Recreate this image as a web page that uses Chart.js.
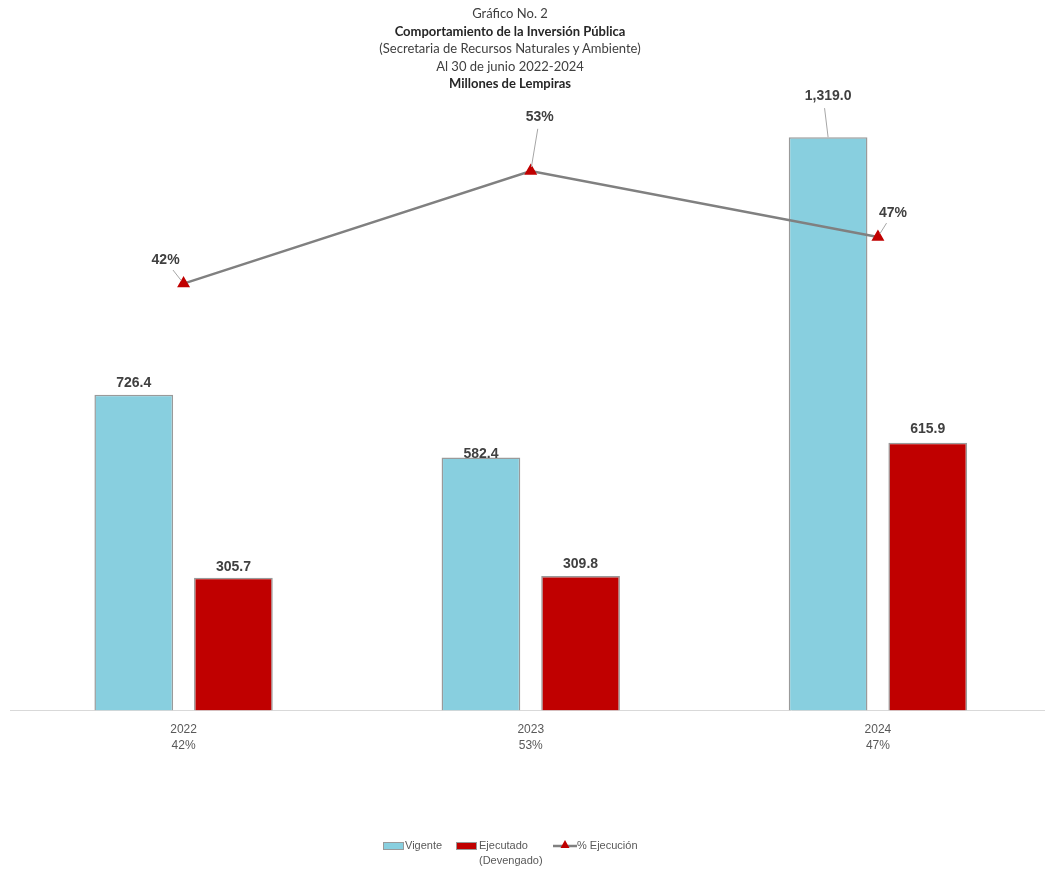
<!DOCTYPE html>
<html>
<head>
<meta charset="utf-8">
<script src="https://cdn.jsdelivr.net/npm/chart.js@4"></script>
<style>
  html, body { margin: 0; background: #fff; overflow: hidden; }
  #wrap { position: relative; width: 1045px; height: 870px; overflow: hidden; }
  #grafico { position: absolute; left: 0; top: 0; }
  #titulo { position: absolute; top: 5px; left: 0; width: 1020px; text-align: center;
    font-family: Lato, "Open Sans", sans-serif; font-size: 13px; line-height: 17.5px; color: #404040; }
  #titulo b { color: #262626; }
  .ley { position: absolute; font-family: "Liberation Sans", Arial, sans-serif; font-size: 11px; color: #595959; line-height: 15px; }
  .caja { position: absolute; width: 21px; height: 8px; box-sizing: border-box; }
</style>
</head>
<body>
<div id="wrap">
  <canvas id="grafico" width="1059" height="870"></canvas>
  <div id="titulo">
    Gráfico No. 2<br>
    <b>Comportamiento de la Inversión Pública</b><br>
    (Secretaria de Recursos Naturales y Ambiente)<br>
    Al 30 de junio 2022-2024<br>
    <b>Millones de Lempiras</b>
  </div>
  <div class="caja" style="left:383px;top:842px;background:#88CFDF;border:1px solid #9a9a9a;"></div>
  <div class="ley" style="left:405px;top:838px;">Vigente</div>
  <div class="caja" style="left:456px;top:842px;background:#C00000;border:1px solid #9a9a9a;"></div>
  <div class="ley" style="left:479px;top:838px;">Ejecutado<br>(Devengado)</div>
  <svg style="position:absolute;left:553px;top:839px" width="24" height="12">
    <line x1="0" y1="7" x2="24" y2="7" stroke="#808080" stroke-width="2.5"/>
    <polygon points="12,1 16.5,9 7.5,9" fill="#C00000"/>
  </svg>
  <div class="ley" style="left:577px;top:838px;">% Ejecución</div>
</div>
<script>
// datos del grafico
const anios = ['2022', '2023', '2024'];
const vigente = [726.4, 582.4, 1319.0];
const ejecutado = [305.7, 309.8, 615.9];
const porcEjecucion = [42.1, 53.2, 46.7];
const porcTicks = ['42%', '53%', '47%'];

const etiquetas = anios.map((a, i) => [a, porcTicks[i]]);

function fmtNum(v) {
  return v.toLocaleString('en-US', { minimumFractionDigits: 1, maximumFractionDigits: 1 });
}

// ajustes de posicion de las etiquetas (dx, dy desde la parte alta de la marca)
const ajustes = {
  0: [{ dx: 0, dy: -12 }, { dx: 0, dy: -3 }, { dx: 0, dy: -41, guia: true, gx: -5 }],
  1: [{ dx: 0, dy: -11 }, { dx: 0, dy: -12 }, { dx: 0, dy: -14 }],
  2: [{ dx: -18, dy: -23, guia: true }, { dx: 9, dy: -54, guia: true }, { dx: 15, dy: -24, guia: true }]
};

const etiquetasPlugin = {
  id: 'etiquetas',
  afterDatasetsDraw(chart) {
    const ctx = chart.ctx;
    ctx.save();
    ctx.font = 'bold 14px "Liberation Sans", Arial, sans-serif';
    ctx.textAlign = 'center';
    ctx.textBaseline = 'middle';
    chart.data.datasets.forEach((ds, di) => {
      const meta = chart.getDatasetMeta(di);
      meta.data.forEach((el, i) => {
        const a = ajustes[di][i];
        const x = el.x + a.dx, y = el.y + a.dy;
        const txt = ds.type === 'line' ? Math.round(ds.data[i]) + '%' : fmtNum(ds.data[i]);
        if (a.guia) {
          const lx = x + (a.gx || 0);
          const vx = el.x - lx, vy = el.y - y;
          const d = Math.sqrt(vx * vx + vy * vy);
          const ini = 12, fin = ds.type === 'line' ? 4 : 0;
          ctx.strokeStyle = '#a6a6a6';
          ctx.lineWidth = 1;
          ctx.beginPath();
          ctx.moveTo(lx + vx / d * ini, y + vy / d * ini);
          ctx.lineTo(el.x - vx / d * fin, el.y - vy / d * fin);
          ctx.stroke();
        }
        ctx.fillStyle = '#404040';
        ctx.fillText(txt, x, y);
      });
    });
    ctx.restore();
  }
};

new Chart(document.getElementById('grafico'), {
  data: {
    labels: etiquetas,
    datasets: [
      {
        type: 'bar',
        label: 'Vigente',
        data: vigente,
        backgroundColor: '#88CFDF',
        borderColor: '#9a9a9a',
        borderWidth: 1.5,
        categoryPercentage: 0.574,
        barPercentage: 0.79,
        yAxisID: 'y',
        order: 2
      },
      {
        type: 'bar',
        label: 'Ejecutado (Devengado)',
        data: ejecutado,
        backgroundColor: '#C00000',
        borderColor: '#9a9a9a',
        borderWidth: 1.5,
        categoryPercentage: 0.574,
        barPercentage: 0.79,
        yAxisID: 'y',
        order: 2
      },
      {
        type: 'line',
        label: '% Ejecución',
        data: porcEjecucion,
        borderColor: '#808080',
        borderWidth: 2.5,
        pointStyle: 'triangle',
        pointRadius: 5,
        pointBackgroundColor: '#C00000',
        pointBorderColor: '#C00000',
        yAxisID: 'y1',
        order: 1
      }
    ]
  },
  options: {
    responsive: false,
    animation: false,
    layout: { padding: { top: 102, left: 10, right: 1, bottom: 105 } },
    plugins: {
      legend: { display: false },
      title: { display: false },
      tooltip: { enabled: false }
    },
    scales: {
      x: {
        grid: { display: false, drawTicks: false },
        border: { color: '#d9d9d9', width: 1 },
        ticks: {
          color: '#595959',
          padding: 11,
          font: { family: '"Liberation Sans", Arial, sans-serif', size: 12, lineHeight: 1.35 }
        }
      },
      y: { display: false, min: 0, max: 1400 },
      y1: { display: false, min: 0, max: 60, position: 'right' }
    }
  },
  plugins: [etiquetasPlugin]
});
</script>
</body>
</html>
